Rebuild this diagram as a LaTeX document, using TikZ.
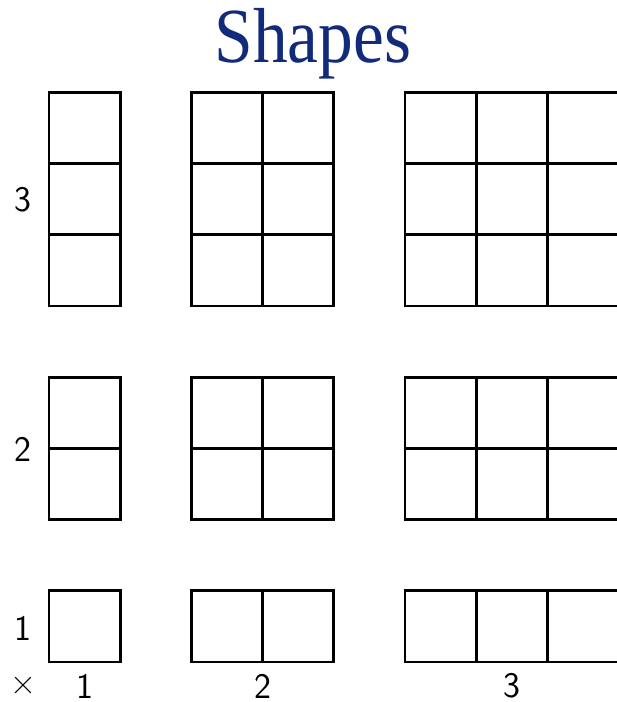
\documentclass[tikz,border=0pt]{standalone}
\usepackage{fontspec}
\newfontfamily\titlefont{Liberation Serif}
\definecolor{titleblue}{RGB}{18,42,122}
\begin{document}
\begin{tikzpicture}[x=1pt,y=-1pt,
  cellline/.style={line width=2.7pt, draw=black},
  lab/.style={font=\sffamily\fontsize{36}{40}\selectfont, inner sep=0pt}]
\useasboundingbox (0,0) rectangle (617,702);
\clip (0,0) rectangle (617,702);
\node[anchor=base, inner sep=0pt, text=titleblue, font=\titlefont\fontsize{78}{80}\selectfont] (title) at (313,62) {\scalebox{0.89}[1]{Shapes}};
\foreach \c/\w in {0/1,2/2,5/3}{
  \foreach \r/\h in {0/1,2/2,5/3}{
    \foreach \i in {1,...,\w}{
      \foreach \j in {1,...,\h}{
        \draw[cellline] ({49+(\c+\i-1)*71.2},{662-(\r+\j-1)*71.2}) rectangle ++(71.2,-71.2);
      }
    }
  }
}
\node[lab] (r3) at (22.5,199.5) {3};
\node[lab] (r2) at (22.5,449.5) {2};
\node[lab] (r1) at (22.5,628) {1};
\node[lab, font=\rmfamily\fontsize{36}{40}\selectfont] (times) at (23,686) {×};
\node[lab] (c1) at (84.5,686) {1};
\node[lab] (c2) at (262.5,686) {2};
\node[lab] (c3) at (512,686) {3};
\end{tikzpicture}
\end{document}
